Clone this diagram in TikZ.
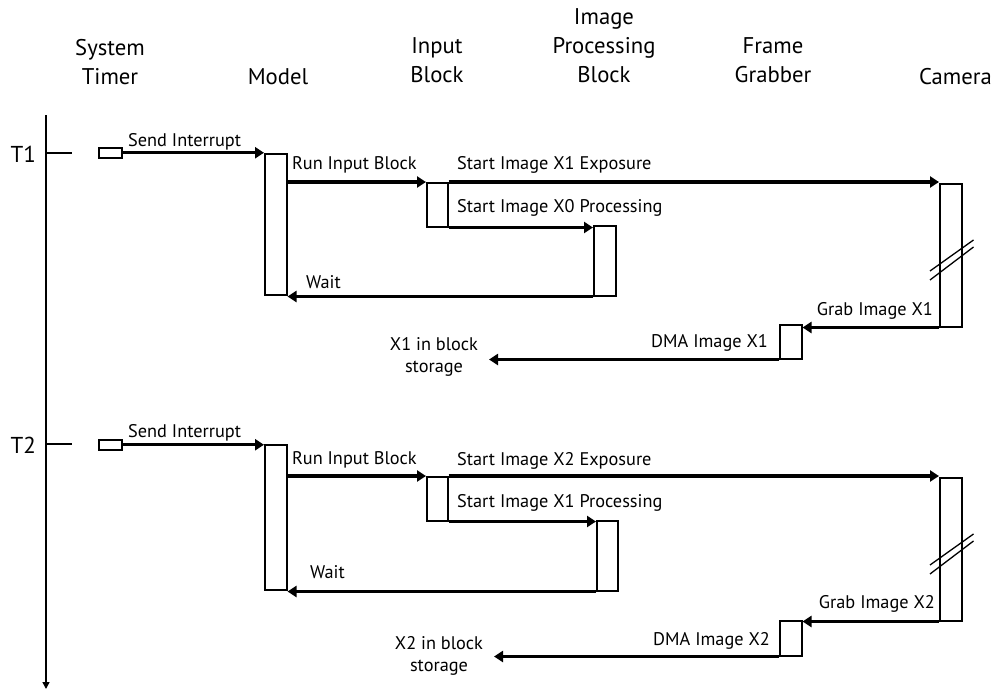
\documentclass[tikz,border=0pt]{standalone}
\usepackage{fontspec}
\setmainfont{PT Sans}
\usetikzlibrary{arrows.meta}
\begin{document}
\begin{tikzpicture}[x=1pt,y=-1pt,
  bar/.style={draw, line width=1.5pt, fill=white, inner sep=0pt, anchor=north west},
  arr/.style={line width=3.2pt, -{Triangle[length=9pt,width=11pt]}},
  lbl/.style={inner sep=0pt, font=\fontsize{18.3}{22}\selectfont},
  hdr/.style={inner sep=0pt, anchor=south, align=center, font=\fontsize{22.7}{29}\selectfont},
  tlbl/.style={inner sep=0pt, font=\fontsize{23}{26}\selectfont},
  brk/.style={line width=1.3pt}]
\useasboundingbox (0,0) rectangle (994,691);
% headers
\node[hdr] (hST) at (110,85) {System\\Timer};
\node[hdr] (hM) at (278,85) {Model};
\node[hdr] (hIB) at (437,83) {Input\\Block};
\node[hdr] (hIP) at (604,83) {Image\\Processing\\Block};
\node[hdr] (hFG) at (773,83) {Frame\\Grabber};
\node[hdr, anchor=south east] (hC) at (992,85) {Camera};
% timeline
\coordinate (tltop) at (46,115);
\coordinate (tlbot) at (46,689);
\draw[line width=1.5pt, -{Triangle[length=7pt,width=7pt]}] (tltop) -- (tlbot);
\coordinate (t1) at (46,153);
\coordinate (t2) at (46,444);
\draw[line width=1.2pt] (t1) -- ++(26,0);
\draw[line width=1.2pt] (t2) -- ++(26,0);
\node[tlbl, anchor=east] (T1) at (36,154) {T1};
\node[tlbl, anchor=east] (T2) at (36,445) {T2};

% ---------- cycle 1
\node[bar, minimum width=23pt, minimum height=10pt] (st1) at (98,147) {};
\node[bar, minimum width=22pt, minimum height=141pt] (m1) at (264,153) {};
\node[bar, minimum width=21pt, minimum height=44pt] (ib1) at (426,182) {};
\node[bar, minimum width=22pt, minimum height=70pt] (ip1) at (593,225) {};
\node[bar, minimum width=22pt, minimum height=143pt] (cam1) at (939,183) {};
\node[bar, minimum width=22pt, minimum height=34pt] (fg1) at (779,324) {};
\node[lbl, align=center] (s1) at (434,357) {X1 in block\\storage};
\coordinate (d1) at (489,357);

\draw[arr] (st1.east) -- (st1.east -| m1.west);
\draw[arr] (m1.east |- ib1.north) -- (ib1.north west);
\draw[arr] (ib1.north east) -- (ib1.north east -| cam1.west);
\draw[arr] (ib1.south east) -- (ib1.south east -| ip1.west);
\draw[arr] (ip1.south west) -- (ip1.south west -| m1.east);
\draw[arr] (cam1.south west) -- (cam1.south west -| fg1.east);
\draw[arr] (fg1.south west) -- (d1 |- fg1.south west);
\draw[brk] ([shift={(-9,88)}]cam1.north west) -- ([shift={(11,57)}]cam1.north east);
\draw[brk] ([shift={(-9,97)}]cam1.north west) -- ([shift={(11,64)}]cam1.north east);

\node[lbl, anchor=base west] (a1) at (128,146) {Send Interrupt};
\node[lbl, anchor=base west] (b1) at (292,169) {Run Input Block};
\node[lbl, anchor=base west] (c1) at (457,169) {Start Image X1 Exposure};
\node[lbl, anchor=base west] (e1) at (457,212) {Start Image X0 Processing};
\node[lbl, anchor=base west] (w1) at (306,288) {Wait};
\node[lbl, anchor=base east] (g1) at (933,315) {Grab Image X1};
\node[lbl, anchor=base east] (k1) at (768,347) {DMA Image X1};

% ---------- cycle 2
\node[bar, minimum width=23pt, minimum height=10pt] (st2) at (98,439) {};
\node[bar, minimum width=22pt, minimum height=145pt] (m2) at (264,444) {};
\node[bar, minimum width=21pt, minimum height=44pt] (ib2) at (426,476) {};
\node[bar, minimum width=21pt, minimum height=70pt] (ip2) at (596,520) {};
\node[bar, minimum width=22pt, minimum height=143pt] (cam2) at (939,477) {};
\node[bar, minimum width=22pt, minimum height=35pt] (fg2) at (779,620) {};
\node[lbl, align=center] (s2) at (439,656) {X2 in block\\storage};
\coordinate (d2) at (494,655);

\draw[arr] (st2.east) -- (st2.east -| m2.west);
\draw[arr] (m2.east |- ib2.north) -- (ib2.north west);
\draw[arr] (ib2.north east) -- (ib2.north east -| cam2.west);
\draw[arr] (ib2.south east) -- (ib2.south east -| ip2.west);
\draw[arr] (ip2.south west) -- (ip2.south west -| m2.east);
\draw[arr] (cam2.south west) -- (cam2.south west -| fg2.east);
\draw[arr] (fg2.south west) -- (d2 |- fg2.south west);
\draw[brk] ([shift={(-9,88)}]cam2.north west) -- ([shift={(11,57)}]cam2.north east);
\draw[brk] ([shift={(-9,97)}]cam2.north west) -- ([shift={(11,64)}]cam2.north east);

\node[lbl, anchor=base west] (a2) at (128,437) {Send Interrupt};
\node[lbl, anchor=base west] (b2) at (292,464) {Run Input Block};
\node[lbl, anchor=base west] (c2) at (457,465) {Start Image X2 Exposure};
\node[lbl, anchor=base west] (e2) at (457,507) {Start Image X1 Processing};
\node[lbl, anchor=base west] (w2) at (310,578) {Wait};
\node[lbl, anchor=base east] (g2) at (935,608) {Grab Image X2};
\node[lbl, anchor=base east] (k2) at (770,645) {DMA Image X2};
\end{tikzpicture}
\end{document}
